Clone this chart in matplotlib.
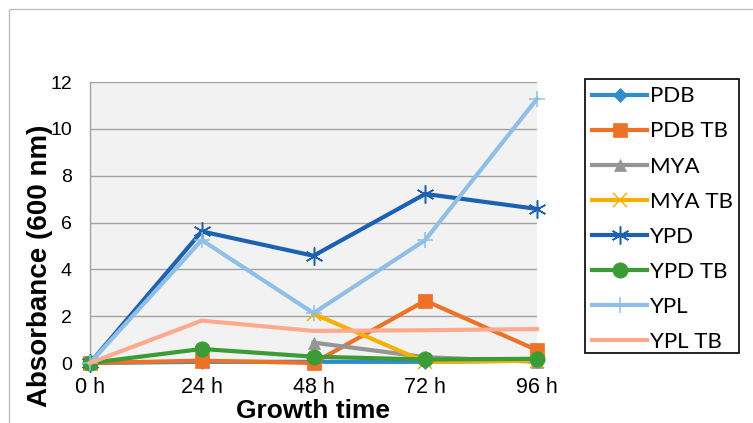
import numpy as np
import matplotlib
matplotlib.use("Agg")
import matplotlib.pyplot as plt
from matplotlib.patches import Rectangle

# Optical density readings at 600 nm for each medium over time
times = ["0 h", "24 h", "48 h", "72 h", "96 h"]
series_names = ["PDB", "PDB TB", "MYA", "MYA TB", "YPD", "YPD TB", "YPL", "YPL TB"]

pdb = [0.0, 0.05, 0.05, 0.05, 0.1]
pdb_tb = [0.0, 0.1, 0.0, 2.66, 0.55]
mya = [np.nan, np.nan, 0.87, 0.25, 0.05]
mya_tb = [np.nan, np.nan, 2.1, 0.05, 0.1]
ypd = [0.0, 5.62, 4.58, 7.22, 6.58]
ypd_tb = [0.0, 0.6, 0.27, 0.15, 0.18]
ypl = [0.0, 5.25, 2.13, 5.25, 11.28]
ypl_tb = [0.0, 1.81, 1.37, 1.4, 1.45]

values = [pdb, pdb_tb, mya, mya_tb, ypd, ypd_tb, ypl, ypl_tb]
colors = ["#2f8dcf", "#ed7126", "#959595", "#f7b000",
          "#1d62b0", "#3b9b35", "#8fbfe6", "#ffaa8f"]
markers = ["D", "s", "^", "x", (6, 2, 0), "o", "+", None]
msizes = [7, 10, 9, 10, 13, 11, 12, 0]

W, H = 753, 423
fig = plt.figure(figsize=(W / 100, H / 100), dpi=100)
fig.patch.set_facecolor("white")

# outer chart frame
fig.add_artist(Rectangle((9 / W, -0.05), 1.1, 1 - 9 / H + 0.05,
                         transform=fig.transFigure, fill=False,
                         edgecolor="#bdbdbd", linewidth=1.0))

ax = fig.add_axes([90 / W, 1 - 363 / H, (537 - 90) / W, (363 - 82) / H])
ax.set_facecolor("#f2f2f2")

x = np.arange(len(times))
handles = []
for name, vals, c, m, ms in zip(series_names, values, colors, markers, msizes):
    mew = 1.1 if m in ("x", "+", (6, 2, 0)) else 0.5
    ln, = ax.plot(x, vals, color=c, linewidth=3.0, marker=m, markersize=ms,
                  markeredgecolor=c, markerfacecolor=c, markeredgewidth=mew,
                  label=name, clip_on=False, zorder=3)
    handles.append(ln)

ax.set_xlim(0, 4)
ax.set_ylim(0, 12)
ax.set_yticks(np.arange(0, 13, 2))
ax.set_xticks(x)
ax.set_xticklabels(times, fontfamily="Liberation Sans", fontsize=15.5)
for lab in ax.get_yticklabels():
    lab.set_fontfamily("Liberation Sans")
    lab.set_fontsize(14)
ax.tick_params(axis="both", length=0)
ax.tick_params(axis="y", pad=13)
ax.tick_params(axis="x", pad=10)

ax.grid(axis="y", color="#a3a3a3", linewidth=1.0, zorder=1)
ax.set_axisbelow(True)
for s in ["top", "right", "bottom"]:
    ax.spines[s].set_visible(False)
ax.spines["left"].set_color("#a3a3a3")
ax.spines["left"].set_linewidth(1.0)

ax.set_xlabel("Growth time", fontfamily="Liberation Sans", fontweight="bold",
              fontsize=19)
ax.xaxis.set_label_coords(0.5, (363 - 411) / 281)
ax.xaxis.label.set_va("center")
ax.set_ylabel("Absorbance (600 nm)", fontfamily="Liberation Sans",
              fontweight="bold", fontsize=20)
ax.yaxis.set_label_coords((40 - 90) / 447, (363 - 266) / 281)
ax.yaxis.label.set_va("center")

# legend entries, with a separately drawn box around them
leg = fig.legend(handles=handles, loc="upper left",
                 bbox_to_anchor=(585 / W, 1 - 79 / H),
                 prop={"family": "Lato", "size": 16},
                 frameon=False,
                 handlelength=2.48, handletextpad=0.12, labelspacing=0.68,
                 borderpad=0.33, borderaxespad=0, markerscale=1.0)
fig.add_artist(Rectangle((585 / W, 1 - 353 / H), (739 - 585) / W,
                         (353 - 79) / H, transform=fig.transFigure,
                         fill=False, edgecolor="black", linewidth=1.2))

fig.savefig("out.png", dpi=100)
